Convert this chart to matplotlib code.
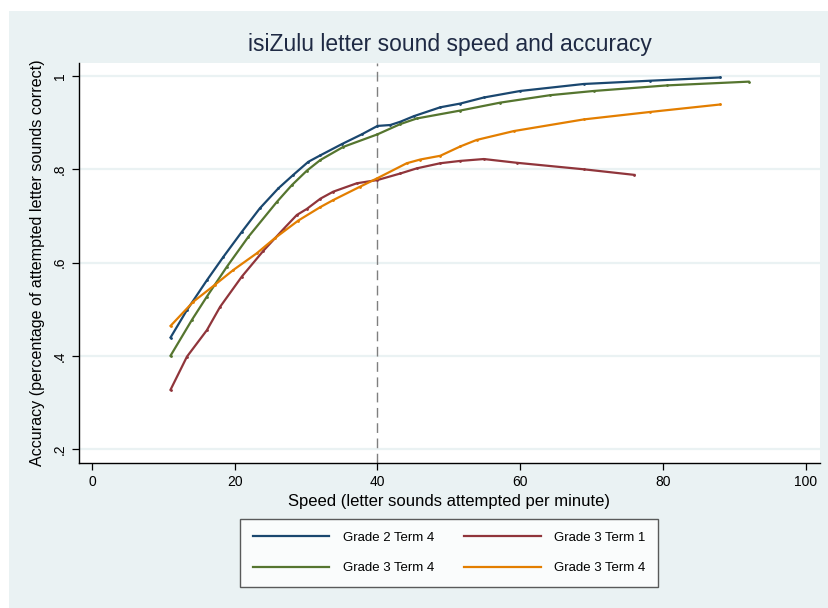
import matplotlib.pyplot as plt
from matplotlib.patches import Rectangle

# Значения
g2t4_x = [11.0, 13.3, 16.1, 18.4, 21.0, 23.5, 26.1, 28.2, 30.3, 32.0, 35.0, 37.8, 40.0, 41.8,
          43.2, 45.1, 48.8, 51.6, 54.9, 60.0, 68.9, 78.2, 88.0]
g2t4_y = [0.439, 0.498, 0.562, 0.612, 0.666, 0.716, 0.759, 0.788, 0.816, 0.830, 0.854, 0.875,
          0.893, 0.895, 0.902, 0.914, 0.933, 0.941, 0.954, 0.968, 0.983, 0.990, 0.997]

g3t1_x = [11.0, 13.3, 16.1, 17.95, 21.0, 24.0, 26.9, 28.7, 30.1, 32.0, 33.8, 37.1, 40.0, 43.2,
          45.5, 48.8, 51.6, 54.9, 59.5, 68.9, 76.0]
g3t1_y = [0.327, 0.398, 0.455, 0.505, 0.570, 0.625, 0.673, 0.702, 0.715, 0.737, 0.752, 0.770,
          0.777, 0.791, 0.802, 0.813, 0.818, 0.822, 0.814, 0.800, 0.788]

g3t4_x = [11.0, 14.0, 16.1, 18.9, 21.9, 25.9, 28.0, 30.1, 32.0, 35.2, 40.0, 43.2, 45.5, 51.6,
          57.2, 64.2, 70.3, 80.6, 92.0]
g3t4_y = [0.400, 0.477, 0.527, 0.591, 0.655, 0.730, 0.766, 0.797, 0.820, 0.848, 0.875, 0.897,
          0.909, 0.926, 0.943, 0.959, 0.968, 0.980, 0.988]

g3t4b_x = [11.0, 14.2, 17.2, 19.8, 23.1, 25.6, 28.9, 32.0, 33.8, 37.6, 40.0, 44.1, 46.0, 48.8,
           51.6, 53.9, 59.1, 68.9, 78.2, 88.0]
g3t4b_y = [0.464, 0.516, 0.552, 0.584, 0.620, 0.652, 0.690, 0.719, 0.734, 0.763, 0.781, 0.813,
           0.821, 0.829, 0.849, 0.863, 0.882, 0.907, 0.923, 0.939]

series = [
    (g2t4_x, g2t4_y, "Grade 2 Term 4", "#1A476F"),
    (g3t1_x, g3t1_y, "Grade 3 Term 1", "#90353B"),
    (g3t4_x, g3t4_y, "Grade 3 Term 4", "#55752F"),
    (g3t4b_x, g3t4b_y, "Grade 3 Term 4", "#E37E00"),
]

x_ticks = [0, 20, 40, 60, 80, 100]
y_ticks = [0.2, 0.4, 0.6, 0.8, 1.0]
y_tick_labels = [".2", ".4", ".6", ".8", "1"]

plt.rcParams['font.family'] = ['Liberation Sans', 'DejaVu Sans']

fig = plt.figure(figsize=(8.29, 6.08), dpi=100)
fig.patch.set_facecolor("white")
fig.patches.append(Rectangle((9 / 829, 0), 1 - 9 / 829, (608 - 11) / 608,
                             transform=fig.transFigure, facecolor="#EAF2F3",
                             edgecolor="none", zorder=-10))

ax = fig.add_axes([79 / 829, 1 - 463 / 608, (820 - 79) / 829, (463 - 63) / 608])
ax.set_facecolor("white")

for yt in y_ticks:
    ax.axhline(yt, color="#EAF2F3", lw=1.6, zorder=0)

ax.axvline(40, color="#7f7f7f", lw=1.0, ls=(0, (7, 4)), zorder=1)

lines = []
for xs, ys, lab, col in series:
    ln, = ax.plot(xs, ys, color=col, lw=1.6, label=lab, marker="o", ms=1.0, zorder=3)
    lines.append(ln)

ax.set_xlim(-1.82, 102.0)
ax.set_ylim(0.170, 1.028)
ax.set_xticks(x_ticks)
ax.set_yticks(y_ticks)
ax.set_yticklabels(y_tick_labels, rotation=90, va="center")
ax.tick_params(direction="out", length=5, width=0.9, labelsize=10, colors="black")

for s in ["top", "right"]:
    ax.spines[s].set_visible(False)
for s in ["left", "bottom"]:
    ax.spines[s].set_linewidth(1.0)

ax.set_title("isiZulu letter sound speed and accuracy", fontsize=16.5, color="#1F2A44", pad=9)
ax.set_xlabel("Speed (letter sounds attempted per minute)", fontsize=12, labelpad=4)
ax.set_ylabel("Accuracy (percentage of attempted letter sounds correct)", fontsize=11.6,
              labelpad=6)

# порядок по столбцам: синий, зелёный | бордовый, оранжевый
order = [0, 2, 1, 3]
leg = fig.legend([lines[i] for i in order], [series[i][2] for i in order],
                 loc="center", bbox_to_anchor=(449 / 829, 1 - 553 / 608), ncol=2,
                 fontsize=9.5, frameon=True, fancybox=False, handlelength=5.8,
                 handletextpad=1.0, columnspacing=2.3, borderpad=0.95, labelspacing=1.35)
leg.get_frame().set_edgecolor("#333333")
leg.get_frame().set_linewidth(1.0)
for h in leg.get_lines():
    h.set_marker("")

fig.savefig("out.png", dpi=100, facecolor=fig.get_facecolor())
